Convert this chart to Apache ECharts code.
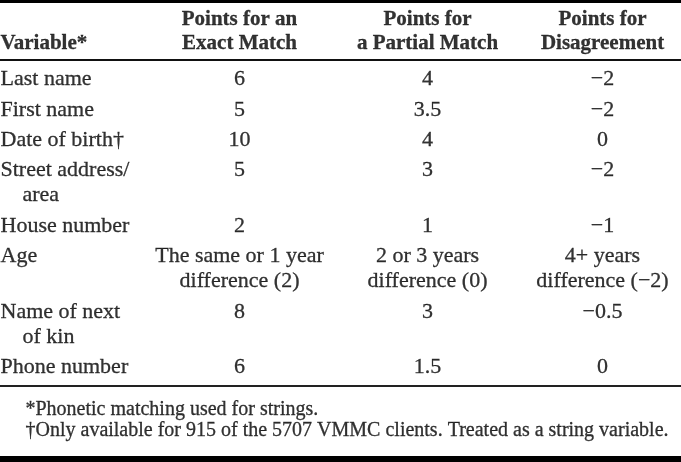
<!DOCTYPE html>
<html>
<head>
<meta charset="utf-8">
<script src="https://cdn.jsdelivr.net/npm/echarts@6/dist/echarts.min.js"></script>
<style>html,body{margin:0;padding:0;background:#fff;}#chart{width:681px;height:462px;}</style>
</head>
<body>
<div id="chart"></div>
<script>
// ---- table content ----
const headers = ['Variable*', 'Points for an\nExact Match', 'Points for\na Partial Match', 'Points for\nDisagreement'];
const variables = ['Last name', 'First name', 'Date of birth\u2020', 'Street address/\narea', 'House number', 'Age', 'Name of next\nof kin', 'Phone number'];
const exactMatch = [6, 5, 10, 5, 2, 'The same or 1 year\ndifference (2)', 8, 6];
const partialMatch = [4, 3.5, 4, 3, 1, '2 or 3 years\ndifference (0)', 3, 1.5];
const disagreement = [-2, -2, 0, -2, -1, '4+ years\ndifference (\u22122)', -0.5, 0];
const footnotes = ['*Phonetic matching used for strings.', '\u2020Only available for 915 of the 5707 VMMC clients. Treated as a string variable.'];

// ---- layout ----
const W = 681, H = 462;
const FONT = "'Liberation Serif','Times New Roman',serif";
const colX = [1, 240, 428, 603];
const colAlign = ['left', 'center', 'center', 'center'];
const contIndent = [22, 0, 0, 0];
const headerY = [20, 44];
const bodyTop = 80, lineGap = 25, rowGap = 5.4;
const footX = 26, footY = [410, 431];

function fmt(v) {
  if (typeof v === 'number') return v < 0 ? '\u2212' + Math.abs(v) : String(v);
  return v;
}

const points = [];
function addCell(text, col, yFirst, step, style, bottomAlign, nLines) {
  const lines = String(text).split('\n');
  const shift = bottomAlign ? (nLines - lines.length) : 0;
  lines.forEach((ln, i) => {
    points.push({
      value: [colX[col] + (i > 0 ? contIndent[col] : 0), yFirst + (i + shift) * step],
      label: Object.assign({ formatter: ln, align: colAlign[col] }, style)
    });
  });
}

const headStyle = { fontSize: 21, fontWeight: 'bold' };
const bodyStyle = { fontSize: 22, fontWeight: 'normal' };
headers.forEach((h, c) => addCell(h, c, headerY[0], headerY[1] - headerY[0], headStyle, true, 2));

const columns = [variables, exactMatch, partialMatch, disagreement];
let y = bodyTop;
variables.forEach((v, r) => {
  let nl = 1;
  columns.forEach((col, c) => {
    const t = fmt(col[r]);
    nl = Math.max(nl, String(t).split('\n').length);
    addCell(t, c, y, lineGap, bodyStyle, false, 1);
  });
  y += nl * lineGap + rowGap;
});

footnotes.forEach((f, i) => {
  points.push({ value: [footX, footY[i]], label: { formatter: f, align: 'left', fontSize: 20 } });
});

const chart = echarts.init(document.getElementById('chart'), null, { renderer: 'canvas' });
chart.setOption({
  animation: false,
  backgroundColor: '#fff',
  grid: { left: 0, right: 0, top: 0, bottom: 0 },
  xAxis: { type: 'value', min: 0, max: W, show: false },
  yAxis: { type: 'value', min: 0, max: H, inverse: true, show: false },
  series: [{
    type: 'scatter',
    symbolSize: 1,
    itemStyle: { color: 'rgba(0,0,0,0)' },
    silent: true,
    label: {
      show: true,
      position: [0, 0],
      verticalAlign: 'middle',
      color: '#000',
      textBorderColor: '#000',
      textBorderWidth: 0.3,
      fontFamily: FONT
    },
    data: points,
    markLine: {
      silent: true,
      symbol: ['none', 'none'],
      label: { show: false },
      lineStyle: { color: '#000', type: 'solid' },
      data: [
        { yAxis: 1.5, lineStyle: { width: 3 } },
        { yAxis: 60, lineStyle: { width: 2, color: '#111' } },
        { yAxis: 386, lineStyle: { width: 2, color: '#222' } },
        { yAxis: 459, lineStyle: { width: 6 } }
      ]
    }
  }]
});
</script>
</body>
</html>
